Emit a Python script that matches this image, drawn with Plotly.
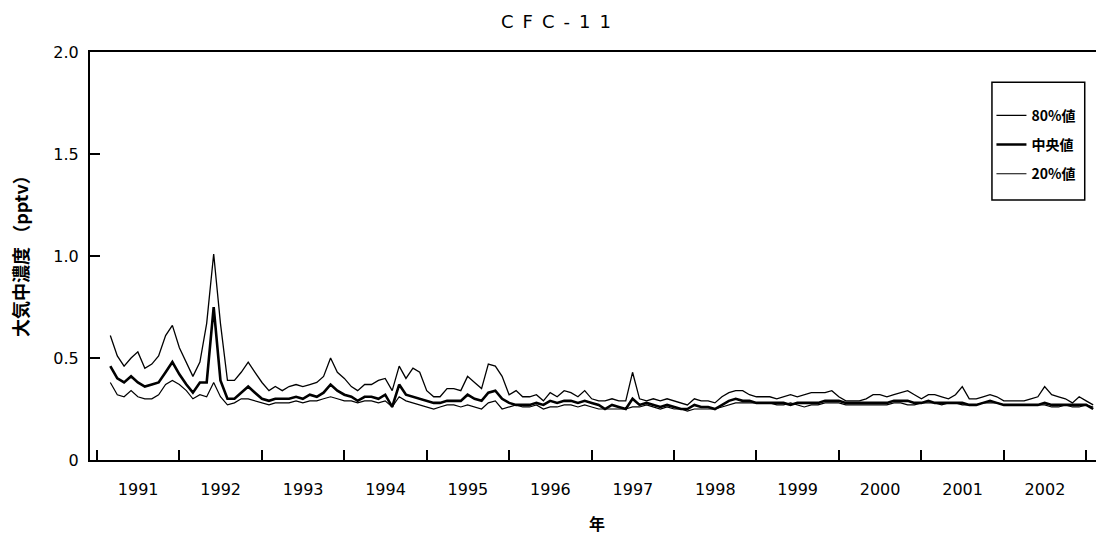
import pandas as pd
import plotly.graph_objects as go

# monthly values, Mar 1991 - Feb 2003 (pptv)
months = pd.date_range("1991-03-01", periods=144, freq="MS")

p80 = [
    0.61, 0.51, 0.46, 0.50, 0.53, 0.45, 0.47, 0.51, 0.61, 0.66, 0.55, 0.48,
    0.41, 0.48, 0.67, 1.01, 0.67, 0.39, 0.39, 0.43, 0.48, 0.43, 0.38, 0.34,
    0.36, 0.34, 0.36, 0.37, 0.36, 0.37, 0.38, 0.41, 0.50, 0.43, 0.40, 0.36,
    0.34, 0.37, 0.37, 0.39, 0.40, 0.34, 0.46, 0.40, 0.45, 0.43, 0.34, 0.31,
    0.31, 0.35, 0.35, 0.34, 0.41, 0.38, 0.35, 0.47, 0.46, 0.41, 0.32, 0.34,
    0.31, 0.31, 0.32, 0.29, 0.33, 0.31, 0.34, 0.33, 0.31, 0.34, 0.30, 0.29,
    0.29, 0.30, 0.29, 0.29, 0.43, 0.30, 0.29, 0.30, 0.29, 0.30, 0.29, 0.28,
    0.27, 0.30, 0.29, 0.29, 0.28, 0.31, 0.33, 0.34, 0.34, 0.32, 0.31, 0.31,
    0.31, 0.30, 0.31, 0.32, 0.31, 0.32, 0.33, 0.33, 0.33, 0.34, 0.31, 0.29,
    0.29, 0.29, 0.30, 0.32, 0.32, 0.31, 0.32, 0.33, 0.34, 0.32, 0.30, 0.32,
    0.32, 0.31, 0.30, 0.32, 0.36, 0.30, 0.30, 0.31, 0.32, 0.31, 0.29, 0.29,
    0.29, 0.29, 0.30, 0.31, 0.36, 0.32, 0.31, 0.30, 0.28, 0.31, 0.29, 0.27,
]

median = [
    0.46, 0.40, 0.38, 0.41, 0.38, 0.36, 0.37, 0.38, 0.43, 0.48, 0.42, 0.37,
    0.33, 0.38, 0.38, 0.75, 0.39, 0.30, 0.30, 0.33, 0.36, 0.33, 0.30, 0.29,
    0.30, 0.30, 0.30, 0.31, 0.30, 0.32, 0.31, 0.33, 0.37, 0.34, 0.32, 0.31,
    0.29, 0.31, 0.31, 0.30, 0.32, 0.26, 0.37, 0.32, 0.31, 0.30, 0.29, 0.28,
    0.28, 0.29, 0.29, 0.29, 0.32, 0.30, 0.29, 0.33, 0.34, 0.30, 0.28, 0.27,
    0.27, 0.27, 0.28, 0.27, 0.29, 0.28, 0.29, 0.29, 0.28, 0.29, 0.28, 0.27,
    0.25, 0.27, 0.26, 0.25, 0.30, 0.27, 0.28, 0.27, 0.26, 0.27, 0.26, 0.25,
    0.25, 0.27, 0.26, 0.26, 0.25, 0.27, 0.29, 0.30, 0.29, 0.29, 0.28, 0.28,
    0.28, 0.28, 0.28, 0.27, 0.28, 0.28, 0.28, 0.28, 0.29, 0.29, 0.29, 0.28,
    0.28, 0.28, 0.28, 0.28, 0.28, 0.28, 0.29, 0.29, 0.29, 0.28, 0.28, 0.29,
    0.28, 0.28, 0.28, 0.28, 0.28, 0.27, 0.27, 0.28, 0.29, 0.28, 0.27, 0.27,
    0.27, 0.27, 0.27, 0.27, 0.28, 0.27, 0.27, 0.27, 0.27, 0.27, 0.27, 0.25,
]

p20 = [
    0.38, 0.32, 0.31, 0.34, 0.31, 0.30, 0.30, 0.32, 0.37, 0.39, 0.37, 0.34,
    0.30, 0.32, 0.31, 0.38, 0.31, 0.27, 0.28, 0.30, 0.30, 0.29, 0.28, 0.27,
    0.28, 0.28, 0.28, 0.29, 0.28, 0.29, 0.29, 0.30, 0.31, 0.30, 0.29, 0.29,
    0.28, 0.29, 0.29, 0.28, 0.29, 0.26, 0.31, 0.29, 0.28, 0.27, 0.26, 0.25,
    0.26, 0.27, 0.27, 0.26, 0.27, 0.26, 0.25, 0.28, 0.29, 0.25, 0.26, 0.27,
    0.26, 0.26, 0.27, 0.25, 0.26, 0.26, 0.27, 0.27, 0.26, 0.27, 0.26, 0.25,
    0.25, 0.25, 0.25, 0.25, 0.26, 0.26, 0.27, 0.26, 0.25, 0.26, 0.25, 0.25,
    0.24, 0.25, 0.25, 0.25, 0.25, 0.26, 0.27, 0.28, 0.28, 0.28, 0.28, 0.28,
    0.28, 0.27, 0.27, 0.28, 0.27, 0.26, 0.27, 0.27, 0.28, 0.28, 0.28, 0.27,
    0.27, 0.27, 0.27, 0.27, 0.27, 0.27, 0.28, 0.28, 0.27, 0.27, 0.28, 0.28,
    0.28, 0.27, 0.28, 0.28, 0.27, 0.27, 0.27, 0.28, 0.28, 0.28, 0.27, 0.27,
    0.27, 0.27, 0.27, 0.27, 0.27, 0.26, 0.26, 0.27, 0.26, 0.26, 0.27, 0.26,
]

names = ["80%値", "中央値", "20%値"]
y_ticks = [0, 0.5, 1.0, 1.5, 2.0]
y_labels = ["0", "0.5", "1.0", "1.5", "2.0"]

jp = "Noto Sans CJK JP, sans-serif"
num = "DejaVu Sans, sans-serif"

fig = go.Figure()
for i, (vals, w) in enumerate([(p80, 1.3), (median, 2.6), (p20, 1.2)]):
    fig.add_trace(go.Scatter(x=months, y=vals, mode="lines", name=names[i],
                             legendgroup=str(i),
                             line=dict(color="black", width=w)))

# legend frame
fig.add_shape(type="rect", xref="paper", yref="paper",
              x0=0.8895, x1=0.981, y0=0.637, y1=0.926,
              line=dict(color="black", width=1.5), fillcolor="rgba(0,0,0,0)")

# axis titles
fig.add_annotation(text="<b>大気中濃度 （pptv）</b>", textangle=-90,
                   xref="paper", yref="paper", x=-70 / 1014, y=0.51,
                   xanchor="center", yanchor="middle", showarrow=False,
                   font=dict(family=jp, size=18, color="black"))
fig.add_annotation(text="<b>年</b>", xref="paper", yref="paper",
                   x=0.5, y=-63 / 408, xanchor="center", yanchor="middle",
                   showarrow=False, font=dict(family=jp, size=16, color="black"))

# the page body adds an 8px margin, so the figure is 8px smaller each way
fig.update_layout(
    width=1096, height=526,
    margin=dict(l=82, r=0, t=44, b=74),
    paper_bgcolor="white", plot_bgcolor="white",
    title=dict(text="C\u2002F\u2002C\u2002-\u20021\u20021", x=0.5, xref="container",
               xanchor="center", y=1 - 14 / 526, yref="container",
               yanchor="middle",
               font=dict(family=num, size=18, color="black")),
    legend=dict(x=0.889, y=0.883, xanchor="left", yanchor="top",
                bgcolor="rgba(0,0,0,0)", borderwidth=0,
                tracegroupgap=8, traceorder="grouped",
                font=dict(family=jp, size=14, color="black", weight="bold")),
    xaxis=dict(type="date", range=["1990-12-01", "2003-03-21"],
               tick0="1991-01-01", dtick="M12", tickformat="%Y",
               ticklabelmode="period", ticks="inside", ticklen=10,
               tickwidth=1.5, tickcolor="black",
               showline=True, linecolor="black", linewidth=2, mirror=True,
               showgrid=False, zeroline=False, ticklabelstandoff=14,
               automargin=False,
               tickfont=dict(family=num, size=16, color="black")),
    yaxis=dict(range=[0, 2], tickvals=y_ticks, ticktext=y_labels,
               ticks="inside", ticklen=10, tickwidth=1.5, tickcolor="black",
               showline=True, linecolor="black", linewidth=2,
               showgrid=False, zeroline=False, ticklabelstandoff=6,
               automargin=False,
               tickfont=dict(family=num, size=16, color="black")),
)

fig.write_html("out.html")
